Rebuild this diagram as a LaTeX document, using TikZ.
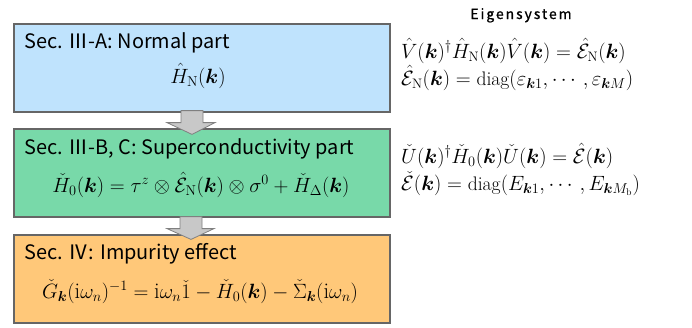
\documentclass[tikz,border=0pt]{standalone}
\usepackage{amsmath,bm}
\usepackage{fontspec}
\newfontfamily\jp{Noto Sans CJK JP}
\newfontfamily\jps[LetterSpace=14,FakeBold=1]{Noto Sans CJK JP}
\usetikzlibrary{calc}
\definecolor{cblue}{HTML}{BFE3FD}
\definecolor{cgreen}{HTML}{78D9A9}
\definecolor{corange}{HTML}{FFC879}
\definecolor{carrow}{HTML}{C8C8C8}
\begin{document}
\begin{tikzpicture}[x=1bp,y=-1bp]
\useasboundingbox (0,0) rectangle (692,327);
\tikzset{
  panel/.style={draw=black!60, line width=1.2bp, inner sep=0pt, minimum width=376bp, minimum height=88bp},
  title/.style={anchor=base west, inner sep=0pt, font=\jp\fontsize{20}{20}\selectfont},
  eq/.style={anchor=base, inner sep=0pt, font=\fontsize{20.5}{20.5}\selectfont},
  side/.style={anchor=base west, inner sep=0pt, font=\fontsize{19.7}{19.7}\selectfont},
  head/.style={anchor=base, inner sep=0pt, font=\jps\fontsize{14}{14}\selectfont},
  blockarrow/.style={fill=carrow, draw=black!50, line width=0.8bp, line join=miter}
}
% panels
\node[panel, fill=cblue]   (b1) at (202,68)  {};
\node[panel, fill=cgreen]  (b2) at (202,173) {};
\node[panel, fill=corange] (b3) at (202,279) {};

% block arrows
\draw[blockarrow] ($(b1.south)+(-21,-2)$) -- ($(b1.south)+(1,-2)$) -- ($(b1.south)+(1,10)$)
  -- ($(b1.south)+(13,10)$) -- ($(b2.north)+(-10,6)$) -- ($(b1.south)+(-35,10)$)
  -- ($(b1.south)+(-21,10)$) -- cycle;
\draw[blockarrow] ($(b2.south)+(-22,-1)$) -- ($(b2.south)+(0,-1)$) -- ($(b2.south)+(0,11)$)
  -- ($(b2.south)+(12,11)$) -- ($(b3.north)+(-11,5)$) -- ($(b2.south)+(-35,11)$)
  -- ($(b2.south)+(-22,11)$) -- cycle;

% titles
\node[title] (t1) at (24,48)  {Sec. Ⅲ-A: Normal part};
\node[title] (t2) at (24,154) {Sec. Ⅲ-B, C: Superconductivity part};
\node[title] (t3) at (24,259) {Sec. Ⅳ: Impurity effect};

% equations in panels
\node[eq] (e1) at (198,83) {$\hat{H}_{\mathrm{N}}(\bm{k})$};
\node[eq] (e2) at (201,192) {$\check{H}_0(\bm{k}) = \tau^z \otimes \hat{\mathcal{E}}_{\mathrm{N}}(\bm{k}) \otimes \sigma^0 + \check{H}_{\Delta}(\bm{k})$};
\node[eq, font=\fontsize{22.5}{22.5}\selectfont] (e3) at (200,298) {$\check{G}_{\bm{k}}(\mathrm{i}\omega_n)^{-1} = \mathrm{i}\omega_n \check{1} - \check{H}_0(\bm{k}) - \check{\Sigma}_{\bm{k}}(\mathrm{i}\omega_n)$};

% eigensystem
\node[head] (h) at (521,19) {Eigensystem};
\node[side] (r1) at (401,58) {$\hat{V}(\bm{k})^\dagger \hat{H}_{\mathrm{N}}(\bm{k}) \hat{V}(\bm{k}) = \hat{\mathcal{E}}_{\mathrm{N}}(\bm{k})$};
\node[side] (r2) at (401,85) {$\hat{\mathcal{E}}_{\mathrm{N}}(\bm{k}) = \mathrm{diag}(\varepsilon_{\bm{k}1}, \cdots, \varepsilon_{\bm{k}M})$};
\node[side] (r3) at (401,163) {$\check{U}(\bm{k})^\dagger \check{H}_0(\bm{k}) \check{U}(\bm{k}) = \hat{\mathcal{E}}(\bm{k})$};
\node[side] (r4) at (401,190) {$\check{\mathcal{E}}(\bm{k}) = \mathrm{diag}(E_{\bm{k}1}, \cdots, E_{\bm{k}M_{\mathrm{b}}})$};
\end{tikzpicture}
\end{document}
